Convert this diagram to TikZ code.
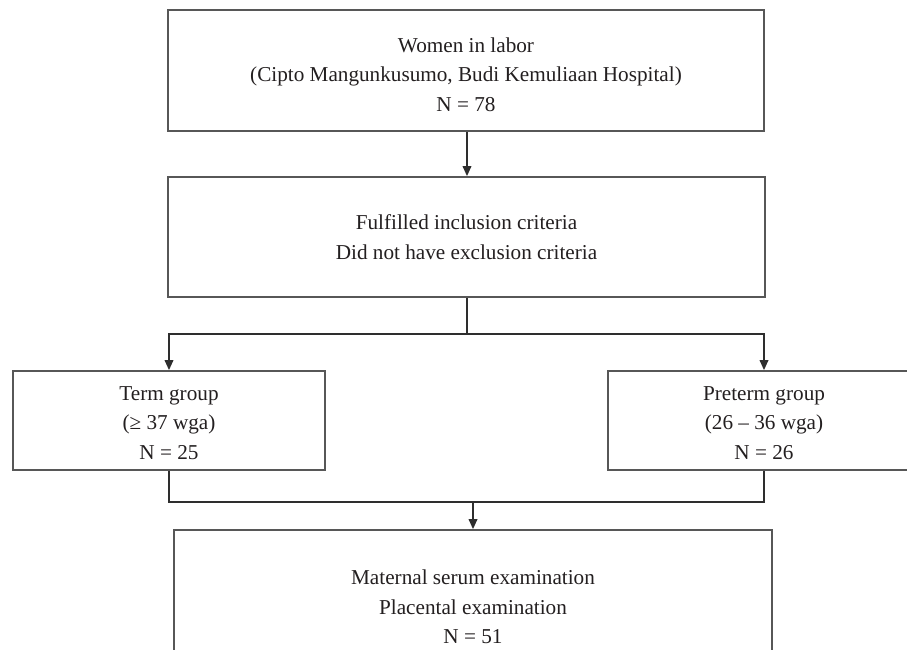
\documentclass[tikz,border=0pt]{standalone}
\usepackage{fontspec}
\setmainfont{Liberation Serif}
\usetikzlibrary{arrows.meta}
\definecolor{boxline}{HTML}{575757}
\definecolor{conline}{HTML}{2E2E2E}
\definecolor{txt}{HTML}{231F20}
\tikzset{
  flowbox/.style={draw=boxline, line width=1.7pt, rectangle, align=center,
    text=txt, font=\fontsize{21.2}{29.5}\selectfont, inner sep=0pt},
  boxtext/.style={align=center, text=txt, font=\fontsize{21.2}{29.5}\selectfont, inner sep=0pt},
  conn/.style={draw=conline, line width=1.8pt},
  arr/.style={conn, -{Triangle[length=10pt,width=8.5pt]}}
}
\begin{document}
\begin{tikzpicture}[x=1pt,y=-1pt]
\clip (0,0) rectangle (907,650);
\fill[white] (0,0) rectangle (907,650);
\node[flowbox, minimum width=596pt, minimum height=121pt] (top) at (466,70.5) {};
\node[boxtext] (topt) at ([yshift=-4pt]top.center)
  {Women in labor\\(Cipto Mangunkusumo, Budi Kemuliaan Hospital)\\N = 78};
\node[flowbox, minimum width=597pt, minimum height=120pt] (mid) at (466.5,237)
  {Fulfilled inclusion criteria\\Did not have exclusion criteria};
\node[flowbox, minimum width=312pt, minimum height=99pt] (term) at (169,420.5) {};
\node[boxtext] (termt) at ([yshift=-2.5pt]term.center)
  {Term group\\(≥ 37 wga)\\N = 25};
\node[flowbox, minimum width=312pt, minimum height=99pt] (pre) at (764,420.5) {};
\node[boxtext] (pret) at ([yshift=-2.5pt]pre.center)
  {Preterm group\\(26 – 36 wga)\\N = 26};
\node[flowbox, minimum width=598pt, minimum height=154pt] (bot) at (473,607)
  {Maternal serum examination\\Placental examination\\N = 51};
\coordinate (j1) at (467,334);
\coordinate (j2) at (473,502);
\draw[arr] (top.south -| j1) -- (mid.north -| j1);
\draw[conn] (mid.south -| j1) -- (j1);
\draw[arr] (j1) -| (term.north);
\draw[arr] (j1) -| (pre.north);
\draw[conn] (term.south) |- (j2);
\draw[conn] (pre.south) |- (j2);
\draw[arr] (j2) -- (bot.north);
\end{tikzpicture}
\end{document}
